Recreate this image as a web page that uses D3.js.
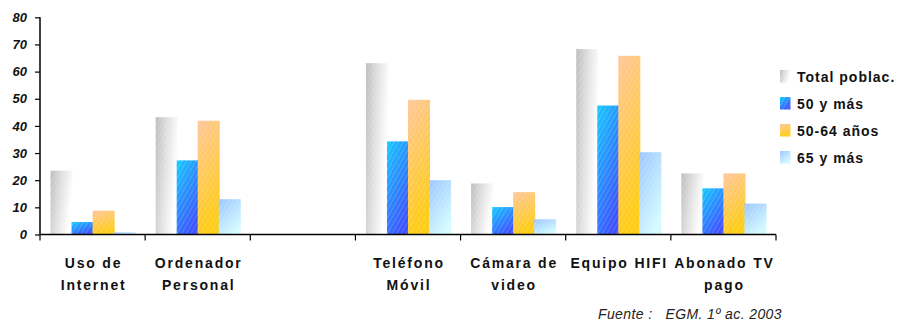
<!DOCTYPE html>
<html>
<head>
<meta charset="utf-8">
<script src="https://cdn.jsdelivr.net/npm/d3@7"></script>
<style>
  html, body { margin: 0; padding: 0; background: #fff; }
  svg { display: block; font-family: "Liberation Sans", Arial, sans-serif; }
</style>
</head>
<body>
<svg id="chart" width="900" height="321"></svg>
<script>
// Equipamiento tecnológico por grupo de edad (%)
const categories = [
  ["Uso de", "Internet"],
  ["Ordenador", "Personal"],
  [],
  ["Teléfono", "Móvil"],
  ["Cámara de", "video"],
  ["Equipo HIFI"],
  ["Abonado TV", "pago"]
];
const seriesNames = ["Total poblac.", "50 y más", "50-64 años", "65 y más"];
const totalPoblac = [23.5, 43.2, null, 63.1, 18.8, 68.3, 22.5];
const mas50       = [4.6, 27.3, null, 34.3, 10.1, 47.5, 17.0];
const anios50a64  = [8.8, 41.9, null, 49.6, 15.6, 65.8, 22.5];
const mas65       = [0.8, 13.0, null, 20.0, 5.6, 30.3, 11.4];
const yTicks = [0, 10, 20, 30, 40, 50, 60, 70, 80];
const sourceNote = "Fuente :   EGM. 1º ac. 2003";

const seriesValues = [totalPoblac, mas50, anios50a64, mas65];
const FONT = "'Liberation Sans', Arial, sans-serif";

const svg = d3.select("#chart");
const defs = svg.append("defs");

// Gradient per series
const gradients = [
  { id: "g0", x2: 1, y2: 0.35, stops: [["0%", "#bdbdbd"], ["55%", "#e4e4e4"], ["100%", "#ffffff"]] },
  { id: "g1", x2: 0.6, y2: 1, stops: [["0%", "#16ccff"], ["100%", "#3f52ff"]] },
  { id: "g2", x2: 0.3, y2: 1, stops: [["0%", "#ffc79c"], ["100%", "#ffcc16"]] },
  { id: "g3", x2: 0.6, y2: 1, stops: [["0%", "#9cc6ff"], ["100%", "#d4fbff"]] }
];
gradients.forEach(g => {
  const lg = defs.append("linearGradient").attr("id", g.id)
    .attr("x1", 0).attr("y1", 0).attr("x2", g.x2).attr("y2", g.y2);
  g.stops.forEach(s => lg.append("stop").attr("offset", s[0]).attr("stop-color", s[1]));
});

// Fine diagonal texture laid over the bars
const pat = defs.append("pattern").attr("id", "tex")
  .attr("width", 4).attr("height", 4)
  .attr("patternUnits", "userSpaceOnUse")
  .attr("patternTransform", "rotate(30)");
pat.append("line").attr("x1", 0).attr("y1", 0).attr("x2", 0).attr("y2", 4)
  .attr("stroke", "#ffffff").attr("stroke-opacity", 0.28).attr("stroke-width", 1.2);

const x0 = d3.scaleBand().domain(d3.range(categories.length)).range([40, 776]).padding(0);
const x1 = d3.scaleBand().domain(d3.range(seriesNames.length))
  .range([0, x0.bandwidth()]).paddingInner(0).paddingOuter(0.5);
const y = d3.scaleLinear().domain([0, 80]).range([234.5, 17.3]);

// Bars
const groups = svg.append("g").selectAll("g")
  .data(categories.map((c, i) => i))
  .join("g")
  .attr("transform", i => `translate(${x0(i)},0)`);

const barData = i => seriesValues.map((vals, s) => ({ s, v: vals[i] })).filter(d => d.v != null);

groups.selectAll("rect.bar")
  .data(i => barData(i))
  .join("rect")
  .attr("class", "bar")
  .attr("x", d => x1(d.s))
  .attr("y", d => y(d.v))
  .attr("width", x1.bandwidth() + 1)
  .attr("height", d => y(0) - y(d.v))
  .attr("fill", d => `url(#g${d.s})`);

groups.selectAll("rect.tex")
  .data(i => barData(i))
  .join("rect")
  .attr("class", "tex")
  .attr("x", d => x1(d.s))
  .attr("y", d => y(d.v))
  .attr("width", x1.bandwidth() + 1)
  .attr("height", d => y(0) - y(d.v))
  .attr("fill", "url(#tex)");

// Y axis
const yAxis = svg.append("g").attr("transform", "translate(40,0)")
  .call(d3.axisLeft(y).tickValues(yTicks).tickSize(5).tickPadding(8).tickFormat(d3.format("d")));
yAxis.attr("font-family", FONT);
yAxis.select(".domain").attr("stroke", "#000").attr("stroke-width", 1.5).attr("d", `M0,${y(80)}V${y(0)}`);
yAxis.selectAll(".tick line").attr("stroke", "#000").attr("stroke-width", 1.2);
yAxis.selectAll(".tick text")
  .attr("fill", "#111").attr("font-size", 13).attr("font-weight", "bold")
  .attr("font-style", "italic");

// X axis with ticks at category boundaries
const xBase = y(0);
svg.append("line").attr("x1", 40).attr("x2", 776).attr("y1", xBase).attr("y2", xBase)
  .attr("stroke", "#000").attr("stroke-width", 1.5);
const boundaries = d3.range(categories.length + 1).map(i => i < categories.length ? x0(i) : x0(i - 1) + x0.bandwidth());
svg.append("g").selectAll("line").data(boundaries).join("line")
  .attr("x1", d => d).attr("x2", d => d)
  .attr("y1", xBase).attr("y2", xBase + 6)
  .attr("stroke", "#000").attr("stroke-width", 1.2);

// Category labels
const labels = svg.append("g").selectAll("text")
  .data(categories.map((c, i) => ({ c, i })))
  .join("text")
  .attr("text-anchor", "middle")
  .attr("font-family", FONT)
  .attr("font-size", 14).attr("font-weight", "bold")
  .attr("letter-spacing", 1.8)
  .attr("fill", "#111");
labels.selectAll("tspan").data(d => d.c.map((line, k) => ({ line, k, i: d.i })))
  .join("tspan")
  .attr("x", d => x0(d.i) + x0.bandwidth() / 2 + 1)
  .attr("y", d => 267.5 + d.k * 22.5)
  .text(d => d.line);

// Legend
const legend = svg.append("g").selectAll("g").data(seriesNames.map((n, s) => ({ n, s })))
  .join("g")
  .attr("transform", d => `translate(780,${70 + d.s * 27})`);
legend.append("rect").attr("width", 10.5).attr("height", 12.5).attr("fill", d => `url(#g${d.s})`);
legend.append("rect").attr("width", 10.5).attr("height", 12.5).attr("fill", "url(#tex)");
legend.append("text")
  .attr("x", 17).attr("y", 12.3)
  .attr("font-family", FONT)
  .attr("font-size", 14).attr("font-weight", "bold").attr("letter-spacing", 1)
  .attr("fill", "#111")
  .text(d => d.n);

// Source note
svg.append("text")
  .attr("x", 782).attr("y", 319)
  .attr("text-anchor", "end")
  .attr("font-family", FONT)
  .attr("font-size", 14).attr("font-style", "italic")
  .attr("letter-spacing", 0.4)
  .attr("fill", "#222")
  .style("white-space", "pre")
  .text(sourceNote);
</script>
</body>
</html>
